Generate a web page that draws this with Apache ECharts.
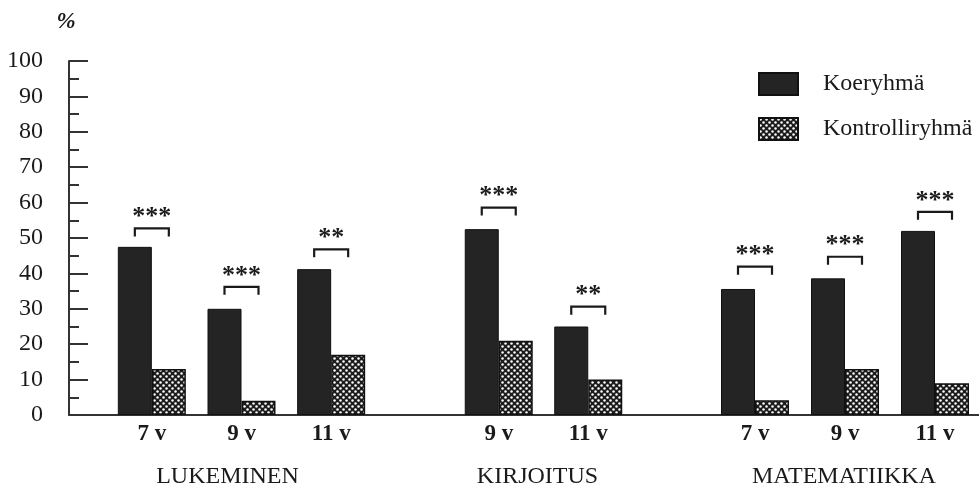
<!DOCTYPE html>
<html><head><meta charset="utf-8">
<script src="https://cdn.jsdelivr.net/npm/echarts@6/dist/echarts.min.js"></script>
<style>html,body{margin:0;padding:0;background:#fff}#c{width:979px;height:491px}</style>
</head><body><div id="c"></div>
<script>
const groupNames = ['LUKEMINEN', 'KIRJOITUS', 'MATEMATIIKKA'];
const lukCats = ['7 v', '9 v', '11 v'];
const kirCats = ['9 v', '11 v'];
const matCats = ['7 v', '9 v', '11 v'];
const lukKoe = [47.5, 30, 41.2];
const lukKon = [13, 4, 17];
const kirKoe = [52.5, 25];
const kirKon = [21, 10];
const matKoe = [35.6, 38.6, 52];
const matKon = [4.2, 13, 9];
const lukSig = [52.7, 36.2, 46.8];
const kirSig = [58.6, 30.6];
const matSig = [41.9, 44.7, 57.4];
const lukStars = ['***', '***', '**'];
const kirStars = ['***', '**'];
const matStars = ['***', '***', '***'];
const yTicks = [0, 10, 20, 30, 40, 50, 60, 70, 80, 90, 100];

const FONT = '"Liberation Serif", "DejaVu Serif", serif';
const INK = '#1a1a1a';

function makePattern() {
  const c = document.createElement('canvas');
  c.width = 6; c.height = 6;
  const g = c.getContext('2d');
  g.fillStyle = '#1c1c1c'; g.fillRect(0, 0, 6, 6);
  g.fillStyle = '#ffffff';
  g.beginPath(); g.arc(1.5, 1.5, 1.25, 0, Math.PI * 2); g.fill();
  g.beginPath(); g.arc(4.5, 4.5, 1.25, 0, Math.PI * 2); g.fill();
  return c;
}
const hatch = { image: makePattern(), repeat: 'repeat' };

const groups = [
  { name: groupNames[0], cats: lukCats, koe: lukKoe, kon: lukKon, sig: lukSig, stars: lukStars, left: 107, width: 269, namePad: [0, 28, 0, 0] },
  { name: groupNames[1], cats: kirCats, koe: kirKoe, kon: kirKon, sig: kirSig, stars: kirStars, left: 454, width: 179, namePad: [0, 12, 0, 0] },
  { name: groupNames[2], cats: matCats, koe: matKoe, kon: matKon, sig: matSig, stars: matStars, left: 710, width: 270, namePad: [0, 2, 0, 0] }
];

const grid = [{ left: 69, right: 0, top: 61, bottom: 76, outerBoundsMode: 'none', containLabel: false }];
const xAxis = [{
  gridIndex: 0, type: 'value', min: 0, max: 1,
  axisLine: { show: true, lineStyle: { color: '#333', width: 2 } },
  axisTick: { show: false }, axisLabel: { show: false }, splitLine: { show: false }
}];
const yAxis = [{
  gridIndex: 0, type: 'value', min: yTicks[0], max: yTicks[yTicks.length - 1], interval: 10,
  name: '%', nameLocation: 'end', nameGap: 27,
  nameTextStyle: { fontFamily: FONT, fontStyle: 'italic', fontWeight: 'bold', fontSize: 23, color: INK, align: 'center', padding: [0, 6, 0, 0] },
  axisLine: { show: true, lineStyle: { color: '#333', width: 2 } },
  axisTick: { show: true, inside: true, length: 19, lineStyle: { color: '#333', width: 2 } },
  minorTick: { show: true, splitNumber: 2, length: 10, lineStyle: { color: '#333', width: 2 } },
  axisLabel: { margin: 26, fontFamily: FONT, fontSize: 24, color: INK },
  splitLine: { show: false }
}];
const series = [];

groups.forEach((gr, i) => {
  const gi = i + 1;
  grid.push({ left: gr.left, width: gr.width, top: 61, bottom: 76, outerBoundsMode: 'none', containLabel: false });
  xAxis.push({
    gridIndex: gi, type: 'category', data: gr.cats,
    axisLine: { show: false }, axisTick: { show: false },
    axisLabel: { margin: 8, fontFamily: FONT, fontSize: 23, color: INK, fontWeight: 'bold' },
    name: gr.name, nameLocation: 'middle', nameGap: 62,
    nameTextStyle: { fontFamily: FONT, fontSize: 24, color: INK, verticalAlign: 'middle', padding: gr.namePad }
  });
  yAxis.push({ gridIndex: gi, type: 'value', min: 0, max: 100, show: false });
  series.push({
    type: 'bar', name: 'Koeryhmä', xAxisIndex: gi, yAxisIndex: gi, data: gr.koe,
    barWidth: 34, barGap: '0%',
    itemStyle: { color: '#242424', borderColor: '#111', borderWidth: 1 }
  });
  series.push({
    type: 'bar', name: 'Kontrolliryhmä', xAxisIndex: gi, yAxisIndex: gi, data: gr.kon,
    barWidth: 34, barGap: '0%',
    itemStyle: { color: hatch, borderColor: '#111', borderWidth: 1.5 }
  });
  series.push({
    type: 'custom', xAxisIndex: gi, yAxisIndex: gi, silent: true,
    data: gr.sig.map((v, k) => [k, v, gr.stars[k]]),
    renderItem: function (params, api) {
      const p = api.coord([api.value(0), api.value(1)]);
      const half = 17, leg = 8;
      const star = gr.stars[params.dataIndex];
      return {
        type: 'group',
        children: [
          { type: 'polyline', shape: { points: [[p[0] - half, p[1] + leg], [p[0] - half, p[1]], [p[0] + half, p[1]], [p[0] + half, p[1] + leg]] },
            style: { stroke: '#1a1a1a', lineWidth: 2.2, fill: null } },
          { type: 'text', x: p[0], y: p[1] - 11,
            style: { text: star, font: 'bold 26px ' + FONT, fill: '#1a1a1a', textAlign: 'center', textVerticalAlign: 'middle' } }
        ]
      };
    },
    z: 5
  });
});

const chart = echarts.init(document.getElementById('c'), null, { renderer: 'canvas' });
chart.setOption({
  animation: false,
  backgroundColor: '#fff',
  legend: {
    data: ['Koeryhmä', 'Kontrolliryhmä'],
    orient: 'vertical', left: 758, top: 72, padding: 0,
    icon: 'rect',
    itemWidth: 39, itemHeight: 22, itemGap: 21,
    textStyle: { fontFamily: FONT, fontSize: 24, color: INK, padding: [0, 0, 0, 20] }
  },
  grid, xAxis, yAxis, series
});
</script></body></html>
